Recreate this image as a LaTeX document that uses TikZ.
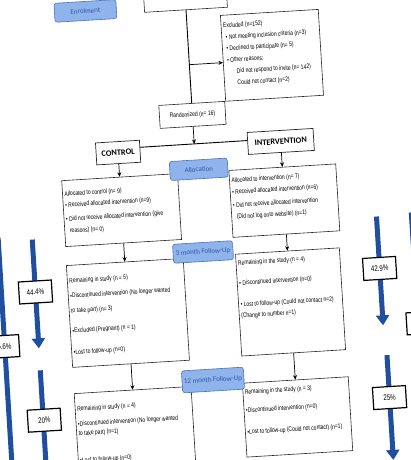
\documentclass[tikz,border=0pt]{standalone}
\usepackage{fontspec}
\setmainfont{Liberation Sans}[FakeStretch=0.77]
\newfontfamily\calfont{Carlito}
\usetikzlibrary{arrows.meta}
\definecolor{stagefill}{HTML}{8FB3EB}
\definecolor{stageedge}{HTML}{4C71B8}
\definecolor{stagetext}{HTML}{3157A6}
\definecolor{dropblue}{HTML}{1F4F9E}
\newcommand{\cellbox}[4]{\parbox[c][#1][t]{#2}{\raggedright\vspace*{#3}#4}}
\tikzset{
  box/.style={draw=black!85, line width=0.6pt, fill=white, inner xsep=2pt, inner ysep=0pt, font=\fontsize{6.5}{8}\selectfont},
  arm/.style={draw=black!85, line width=0.7pt, fill=white, inner sep=1pt, minimum height=22pt, font=\calfont\bfseries\fontsize{8.3}{10}\selectfont},
  stage/.style={draw=stageedge, fill=stagefill, line width=0.6pt, rounded corners=2.5pt, inner sep=1pt, minimum height=19pt, text=stagetext, font=\calfont\fontsize{7}{8}\selectfont},
  pct/.style={draw=black, line width=1.2pt, fill=white, inner sep=1pt, minimum width=33pt, minimum height=22pt, font=\fontsize{8}{9}\selectfont},
  link/.style={line width=0.7pt, -{Stealth[length=4.5pt,width=4pt]}},
  droparrow/.style={draw=dropblue, line width=5pt, -{Triangle[length=10pt,width=13pt]}}
}
\begin{document}
\begin{tikzpicture}[x=1pt,y=-1pt]
\useasboundingbox (0,0) rectangle (411,460);
\clip (0,0) rectangle (411,460);
\begin{scope}[rotate around={3.5:(205.5,230)}, transform shape]
\foreach \x/\ya/\yb/\xl/\yl/\val [count=\i] in {32/229/338/32/281.5/44.4\%, 32/360/472/33/410/20\%,
    377/227/336/377/279/42.9\%, 379/366/471/379/408.5/25\%, -2/225/472/-4/334/55.6\%, 412/225/472/417/336/{}} {
  \draw[droparrow] (\x,\ya) -- (\x,\yb);
  \node[pct] (pct\i) at (\xl,\yl) {\val};
}
\node[box, minimum width=83pt, minimum height=26pt] (assess) at (199.5,-4) {};
\node[box] (excl) at (282.5,59.7) {\cellbox{86pt}{94pt}{8pt}{Excluded (n=152)\\[3.5pt]
  \hspace*{2pt}\textbullet\ Not meeting inclusion criteria (n=3)\\[3.5pt]
  \hspace*{2pt}\textbullet\ Declined to participate (n= 5)\\[3.5pt]
  \hspace*{2pt}\textbullet\ Other reasons:\\[3.5pt]
  \hspace*{11pt}Did not respond to invite (n= 142)\\[3.5pt]
  \hspace*{11pt}Could not contact (n=2)}};
\node[box, inner ysep=2pt, minimum width=66pt, minimum height=23pt] (rand) at (199.5,114.3) {Randomized (n= 16)};
\node[arm, minimum width=44pt] (ctrl) at (123,147.4) {CONTROL};
\node[arm, minimum width=66pt] (intv) at (286,146.2) {INTERVENTION};
\node[box] (calloc) at (123,205) {\cellbox{66pt}{112pt}{11pt}{Allocated to control (n= 9)\\[3pt]
  \textbullet\ Received allocated intervention (n=9)\\[6pt]
  \textbullet\ Did not receive allocated intervention (give\\[4pt]
  \phantom{\textbullet\ }reasons) (n= 0)}};
\node[box] (ialloc) at (286,205.5) {\cellbox{67pt}{103pt}{7.5pt}{Allocated to intervention (n= 7)\\[3.7pt]
  \textbullet\ Received allocated intervention (n=6)\\[5.3pt]
  \textbullet\ Did not receive allocated intervention\\[3.7pt]
  \phantom{\textbullet\ }(Did not log onto website) (n=1)}};
\node[box] (c3) at (123,308) {\cellbox{102pt}{113pt}{13pt}{Remaining in study (n = 5)\\[7pt]
  \textbullet Discontinued intervention (No longer wanted\\[7pt]
  to take part) (n= 3)\\[12pt]
  \textbullet Excluded (Pregnant) (n = 1)\\[13.5pt]
  \textbullet Lost to follow-up (n=0)}};
\node[box] (i3) at (286,307) {\cellbox{102pt}{100pt}{6.5pt}{Remaining in the study (n = 4)\\[12pt]
  \textbullet\ Discontinued intervention (n=0)\\[13.7pt]
  \textbullet\ Lost to follow-up (Could not contact n=2)\\[3pt]
  (Change to number n=1)}};
\node[box] (c12) at (123,425.3) {\cellbox{80pt}{113pt}{13pt}{Remaining in study (n = 4)\\[7pt]
  \textbullet Discontinued intervention (No longer wanted\\[1.5pt]
  to take part) (n=1)\\[19pt]
  \textbullet Lost to follow-up (n=0)}};
\node[box] (i12) at (286,422.2) {\cellbox{74pt}{102pt}{6.5pt}{Remaining in the study (n = 3)\\[10.4pt]
  \textbullet Discontinued intervention (n=0)\\[13.6pt]
  \textbullet Lost to follow-up (Could not contact) (n=1)}};
\coordinate (branch) at (199.5,64);
\coordinate (split) at (199.5,143.4);
\draw[line width=0.9pt] (assess.south) -- (rand.north);
\draw[link] (branch) -- (excl.185);
\draw[link] (rand.south) -- (split);
\draw[line width=0.9pt] (ctrl.10) -- (intv.175);
\draw[link] (ctrl.south) -- (calloc.north);
\draw[link] (intv.south) -- (ialloc.north);
\draw[link] (calloc.south) -- (c3.north);
\draw[link] (ialloc.south) -- (i3.north);
\draw[link] (c3.south) -- (c12.north);
\draw[link] (i3.south) -- (i12.north);
\node[stage, minimum width=62pt] (enrol) at (99,4) {Enrolment};
\node[stage, minimum width=58pt] (alloc) at (202.5,169) {Allocation};
\node[stage, minimum width=60pt] (fu3) at (201.7,251.8) {3 month Follow-Up};
\node[stage, minimum width=62pt, minimum height=22pt] (fu12) at (203.8,380.2) {12 month Follow-Up};
\end{scope}
\end{tikzpicture}
\end{document}
